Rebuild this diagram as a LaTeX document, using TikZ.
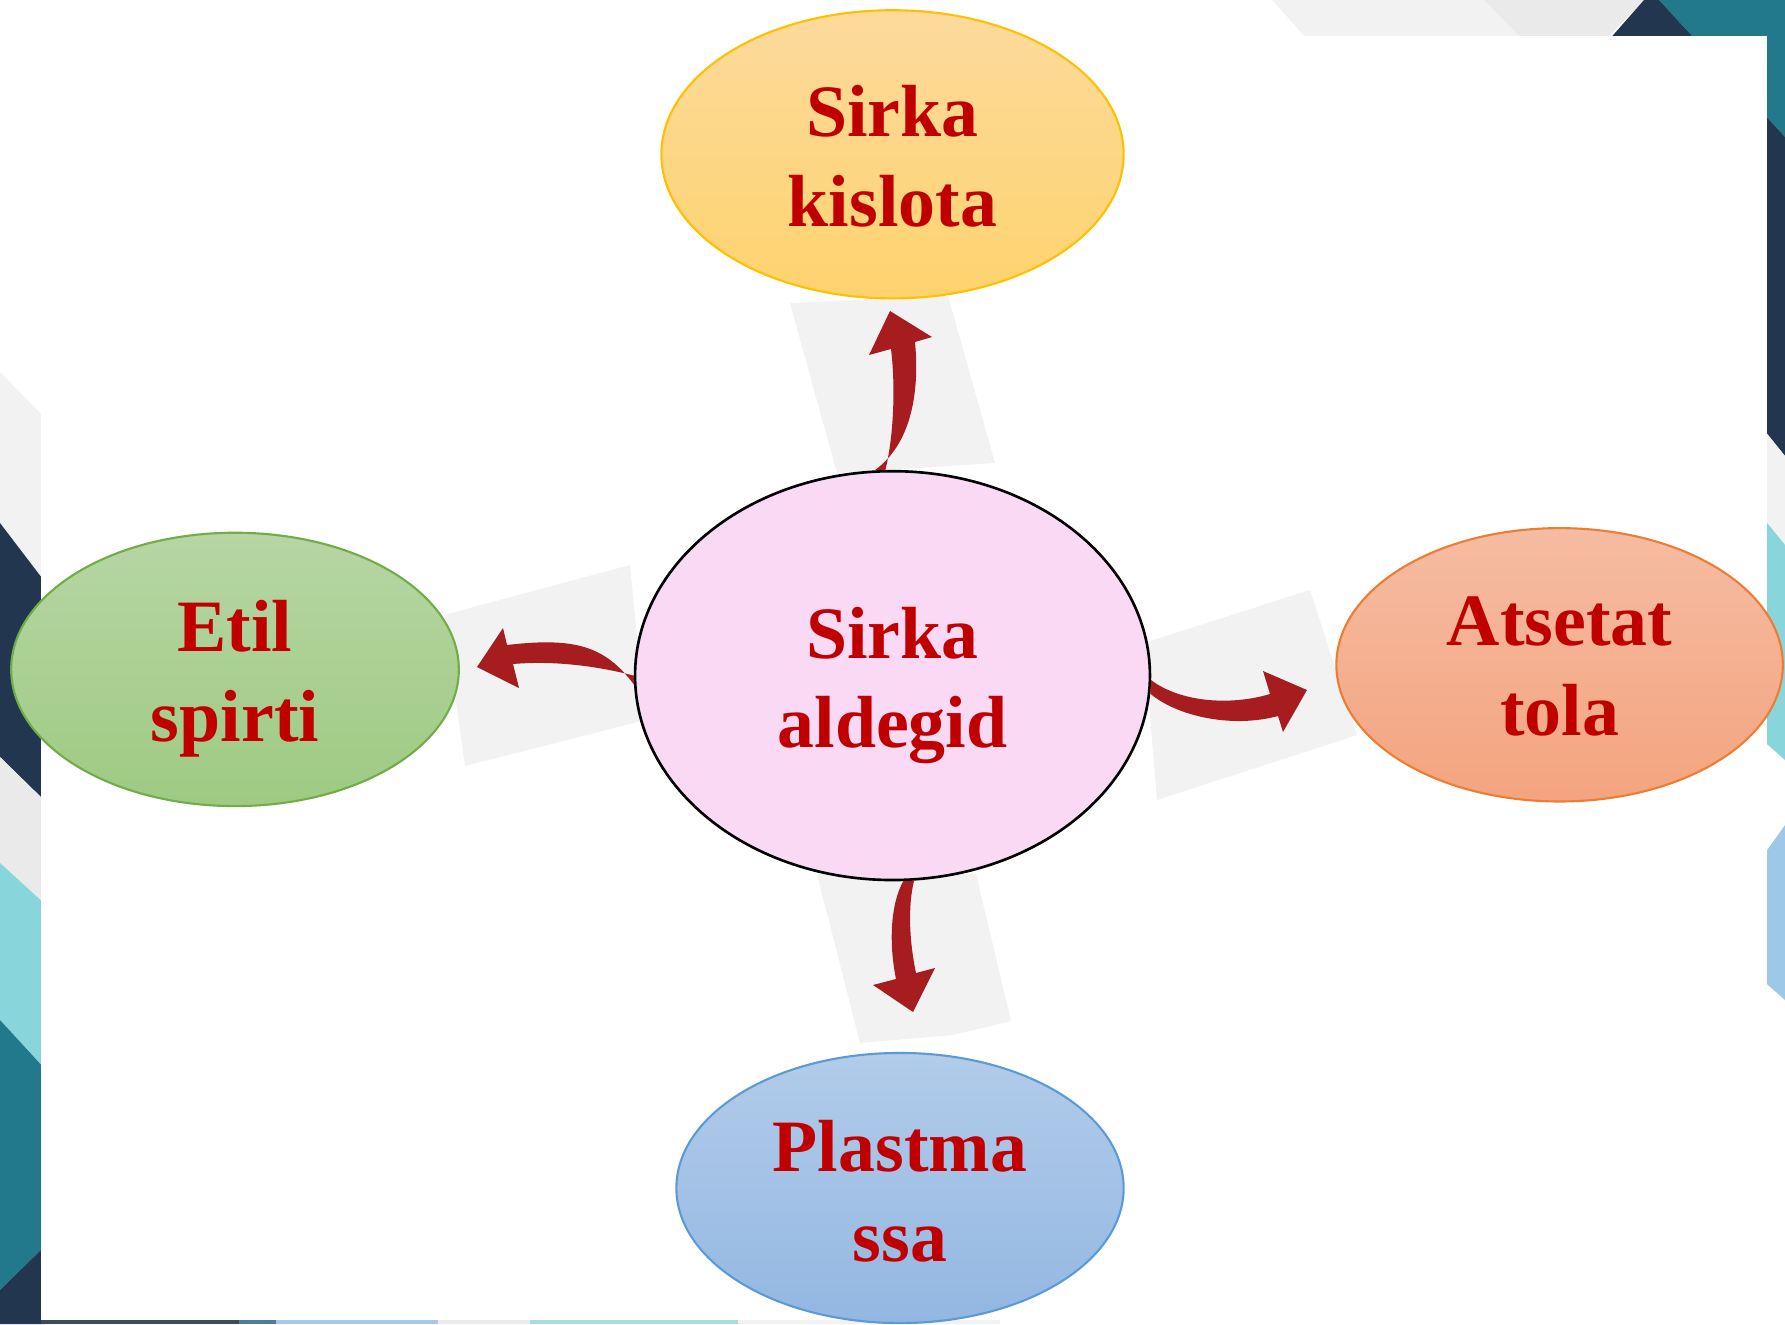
\documentclass[tikz,border=0pt]{standalone}
\usepackage{fontspec}
\setmainfont{Liberation Serif}
\usetikzlibrary{shapes.geometric}
\definecolor{bgnavy}{HTML}{23364F}
\definecolor{bgteal}{HTML}{21798B}
\definecolor{bgcyan}{HTML}{89D5DC}
\definecolor{bgblue}{HTML}{9DC8E8}
\definecolor{bggray}{HTML}{F2F2F2}
\definecolor{bggrayb}{HTML}{EAEAEA}
\definecolor{sa}{HTML}{3B4A5D}
\definecolor{sb}{HTML}{4E7E95}
\definecolor{sc}{HTML}{A4CAE4}
\definecolor{sd}{HTML}{EBEBEB}
\definecolor{se}{HTML}{A7DDE0}
\definecolor{sf}{HTML}{F2F2F2}
\definecolor{qgray}{HTML}{F2F2F2}
\definecolor{arrred}{HTML}{A61C1F}
\definecolor{txtred}{HTML}{C00000}
\definecolor{pinkfill}{HTML}{F9D9F3}
\definecolor{ytop}{HTML}{FCDA9C}
\definecolor{ybot}{HTML}{FED36E}
\definecolor{yline}{HTML}{FFC000}
\definecolor{gtop}{HTML}{B6D6A4}
\definecolor{gbot}{HTML}{9ECA82}
\definecolor{gline}{HTML}{70AD47}
\definecolor{otop}{HTML}{F5BCA2}
\definecolor{obot}{HTML}{F4A47F}
\definecolor{oline}{HTML}{ED7D31}
\definecolor{btop}{HTML}{B2CCEA}
\definecolor{bbot}{HTML}{93B7E2}
\definecolor{bline}{HTML}{5B9BD5}
\begin{document}
\begin{tikzpicture}[x=0.01cm,y=-0.01cm,
  bub/.style={ellipse, inner sep=0pt, line width=0.6pt},
  lbl/.style={inner sep=0pt, align=center, text=txtred,
    font=\fontsize{21}{25.5}\selectfont\bfseries},
  quad/.style={fill=qgray},
  arr/.style={fill=arrred}]
\useasboundingbox (0,0) rectangle (1785,1324);
% ---- slide background decorations ----
\fill[bggray]  (0,372) -- (45,418) -- (45,582) -- (0,523) -- cycle;
\fill[bgnavy]  (0,523) -- (45,582) -- (45,801) -- (0,757) -- cycle;
\fill[bggrayb] (0,757) -- (45,801) -- (45,904) -- (0,863) -- cycle;
\fill[bgcyan]  (0,863) -- (45,904) -- (45,1069) -- (0,1020) -- cycle;
\fill[bgteal]  (0,1020) -- (45,1069) -- (45,1246) -- (0,1290) -- cycle;
\fill[bgnavy]  (0,1290) -- (45,1246) -- (45,1324) -- (0,1324) -- cycle;
\fill[bggray]  (1272,0) -- (1484,0) -- (1523,40) -- (1308,40) -- cycle;
\fill[bggrayb] (1484,0) -- (1644,0) -- (1605,40) -- (1523,40) -- cycle;
\fill[bgteal]  (1659,0) -- (1785,0) -- (1785,137) -- cycle;
\fill[bgnavy]  (1644,0) -- (1659,0) -- (1785,137) -- (1785,456) -- (1760,425) -- (1600,50) -- cycle;
\fill[bggray]  (1760,425) -- (1785,456) -- (1785,545) -- (1760,514) -- cycle;
\fill[bgcyan]  (1760,514) -- (1785,545) -- (1785,760) -- (1760,738) -- cycle;
\fill[bgblue]  (1760,860) -- (1785,825) -- (1785,1000) -- (1760,978) -- cycle;
\fill[sa] (41,1319) rectangle (239,1324);
\fill[sb] (239,1319) rectangle (276,1324);
\fill[sc] (276,1319) rectangle (438,1324);
\fill[sd] (438,1319) rectangle (530,1324);
\fill[se] (530,1319) rectangle (738,1324);
\fill[sf] (738,1319) rectangle (1000,1324);
% white panel
\fill[white] (41,36) rectangle (1767,1320);
% ---- light gray tiles behind arrows ----
\fill[quad] (790,303) -- (948,296) -- (995,463) -- (837,473) -- cycle;
\fill[quad] (444,615) -- (630,565) -- (645,720) -- (465,766) -- cycle;
\fill[quad] (1144,643) -- (1310,590) -- (1357,735) -- (1157,800) -- cycle;
\fill[quad] (817,874) -- (976,874) -- (1011,1021) -- (953,1035) -- (860,1043) -- cycle;
% ---- ellipses ----
\node[bub, draw=black, line width=0.75pt, fill=pinkfill,
  minimum width=5.146cm, minimum height=4.086cm] (c) at (892.5,675.6) {};
\node[bub, draw=yline, top color=ytop, bottom color=ybot,
  minimum width=4.62cm, minimum height=2.88cm] (t) at (892.5,154.3) {};
\node[bub, draw=gline, top color=gtop, bottom color=gbot,
  minimum width=4.474cm, minimum height=2.732cm] (l) at (235,669.4) {};
\node[bub, draw=oline, top color=otop, bottom color=obot,
  minimum width=4.462cm, minimum height=2.732cm] (r) at (1559.6,664.8) {};
\node[bub, draw=bline, top color=btop, bottom color=bbot,
  minimum width=4.47cm, minimum height=2.70cm] (b) at (900,1188) {};
% ---- texts ----
\node[lbl] (ctxt) at ([yshift=-0.10cm]c.center) {Sirka\\aldegid};
\node[lbl] (ttxt) at ([yshift=-0.02cm]t.center) {Sirka\\kislota};
\node[lbl] (ltxt) at ([yshift=-0.09cm]l.center) {Etil\\spirti};
\node[lbl] (rtxt) at ([yshift=-0.02cm]r.center) {Atsetat\\tola};
\node[lbl] (btxt) at ([yshift=-0.03cm]b.center) {Plastma\\ssa};
% ---- curved block arrows ----
\fill[arr] (c.95) .. controls (910,445) and (920,395) .. (915,342)
  -- (932,337) -- (890,311) -- (869,355) -- (891,349)
  .. controls (896,390) and (893,440) .. (c.92) -- cycle;
\fill[arr] (c.182) .. controls (605,646) and (575,637) .. (507,645)
  -- (503,628) -- (477,667) -- (519,688) -- (513,664)
  .. controls (560,660) and (605,668) .. (c.180) -- cycle;
\fill[arr] (c.-1) .. controls (1180,702) and (1230,706) .. (1270,694)
  -- (1263,671) -- (1307,690) -- (1283,732) -- (1278,716)
  .. controls (1230,729) and (1175,715) .. (c.-4) -- cycle;
\fill[arr] (c.276) .. controls (908,905) and (909,940) .. (916,973)
  -- (935,968) -- (913,1012) -- (873,985) -- (896,979)
  .. controls (889,945) and (890,905) .. (c.273) -- cycle;
\end{tikzpicture}
\end{document}
